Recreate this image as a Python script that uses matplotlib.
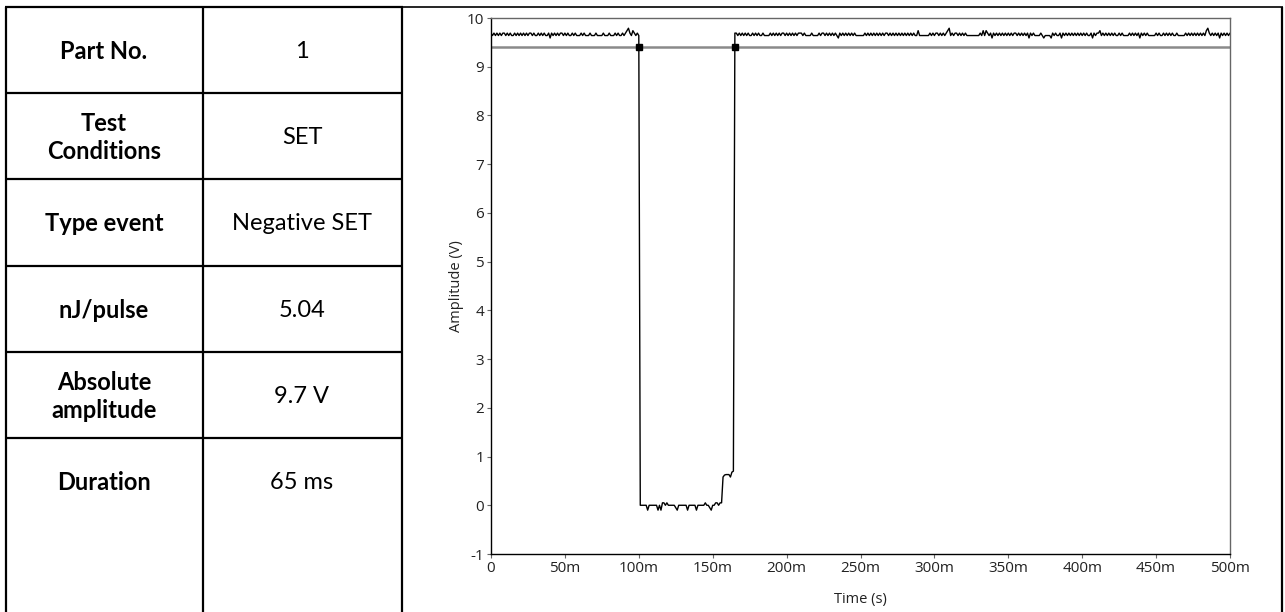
import matplotlib.pyplot as plt
import numpy as np

plt.rcParams['axes.unicode_minus'] = False

# Tabelle links
row_labels = ['Part No.', 'Test\nConditions', 'Type event', 'nJ/pulse', 'Absolute\namplitude', 'Duration']
row_values = ['1', 'SET', 'Negative SET', '5.04', '9.7 V', '65 ms']

# Messkurve: 1 ms pro Abtastwert, Ziffern = Rauschstufe (2 = Pegel, Schritt 0.05 V)
dt = 1e-3
high_level = 9.69
low_level = 0.0
code_step = 0.05
pre_codes = ('2121212122 1212112121 2121212212 1121212112 0212121221 '
             '2121121211 1212111211 1211112111 2111212112 1234213212 1')
low_codes = '2222202222 2202033232 2222102222 2202222202 2222322102 233233'
step_values = [0.58, 0.62, 0.63, 0.63, 0.63, 0.58, 0.68, 0.70]
post_codes = ('2212121212 1121212112 1111212121 2122121212 1212221211 '
              '1121111212 2121212121 0212121212 1211111121 2121212121 '
              '2122121212 1212121212 1211311111 1121212212 1212341212 '
              '2121212111 1111112131 3212021212 1212121212 2121212120 '
              '2121111210 1111021211 2021212121 2121212121 1202122312 '
              '1212121211 2121111212 1212021212 1111121211 2121212112 '
              '1111121212 1212121213 4212121202 1212121212')

threshold = 9.4
crossing_times = [0.1000, 0.1650]

x_ticks = [0, 0.05, 0.1, 0.15, 0.2, 0.25, 0.3, 0.35, 0.4, 0.45, 0.5]
x_ticklabels = ['0', '50m', '100m', '150m', '200m', '250m', '300m', '350m', '400m', '450m', '500m']
y_ticks = [-1, 0, 1, 2, 3, 4, 5, 6, 7, 8, 9, 10]


def decode(codes, level):
    return [level + (int(c) - 2) * code_step for c in codes.replace(' ', '')]


amps = decode(pre_codes, high_level) + decode(low_codes, low_level) + step_values + decode(post_codes, high_level)
times = np.arange(len(amps)) * dt

fig = plt.figure(figsize=(12.85, 6.12), dpi=100)

# Hintergrund-Achse in Pixelkoordinaten fuer die Tabelle
bg = fig.add_axes([0, 0, 1, 1])
bg.set_xlim(0, 1285)
bg.set_ylim(612, 0)
bg.axis('off')

lw_tab = 1.6
row_top = 7
row_h = 86.2
for i in range(len(row_labels)):
    y = row_top + i * row_h
    bg.plot([5, 403], [y, y], color='black', lw=lw_tab, solid_capstyle='butt')
for x in [6, 203, 402]:
    bg.plot([x, x], [row_top, 612], color='black', lw=lw_tab, solid_capstyle='butt')
bg.plot([402, 1283], [row_top, row_top], color='black', lw=1.2, solid_capstyle='butt')
bg.plot([1282, 1282], [row_top, 612], color='black', lw=lw_tab, solid_capstyle='butt')

for i, (lab, val) in enumerate(zip(row_labels, row_values)):
    yc = row_top + i * row_h + 44.5
    bg.text(104, yc, lab, ha='center', va='center', fontsize=17, fontweight='bold',
            family='Lato', linespacing=1.25)
    bg.text(302, yc, val, ha='center', va='center', fontsize=17, family='Lato')

# Diagramm
ax = fig.add_axes([491 / 1285, 1 - 554 / 612, (1230 - 491) / 1285, (554 - 18) / 612])
ax.axhline(threshold, color='#8a8a8a', lw=1.8, zorder=1)
ax.plot(times, amps, color='black', lw=1.0, zorder=2)
ax.plot(crossing_times, [threshold] * len(crossing_times), 's', color='black', ms=5, zorder=3)

ax.set_xlim(0, 0.5)
ax.set_ylim(-1, 10)
ax.set_xticks(x_ticks)
ax.set_xticklabels(x_ticklabels)
ax.set_yticks(y_ticks)

for side in ['left', 'bottom']:
    ax.spines[side].set_color('black')
    ax.spines[side].set_linewidth(1.0)
for side in ['top', 'right']:
    ax.spines[side].set_color('#666666')
    ax.spines[side].set_linewidth(1.0)

ax.tick_params(direction='out', length=3, width=0.8, color='#666666', pad=2,
               labelsize=11, labelcolor='#222222')
for lbl in ax.get_xticklabels() + ax.get_yticklabels():
    lbl.set_family('Open Sans')

ax.set_xlabel('Time (s)', fontsize=10.5, family='Open Sans', color='#222222')
ax.set_ylabel('Amplitude (V)', fontsize=10.5, family='Open Sans', color='#222222')
ax.xaxis.set_label_coords(0.5, -0.07)
ax.yaxis.set_label_coords(-0.036, 0.5)

fig.savefig('out.png', dpi=100)
